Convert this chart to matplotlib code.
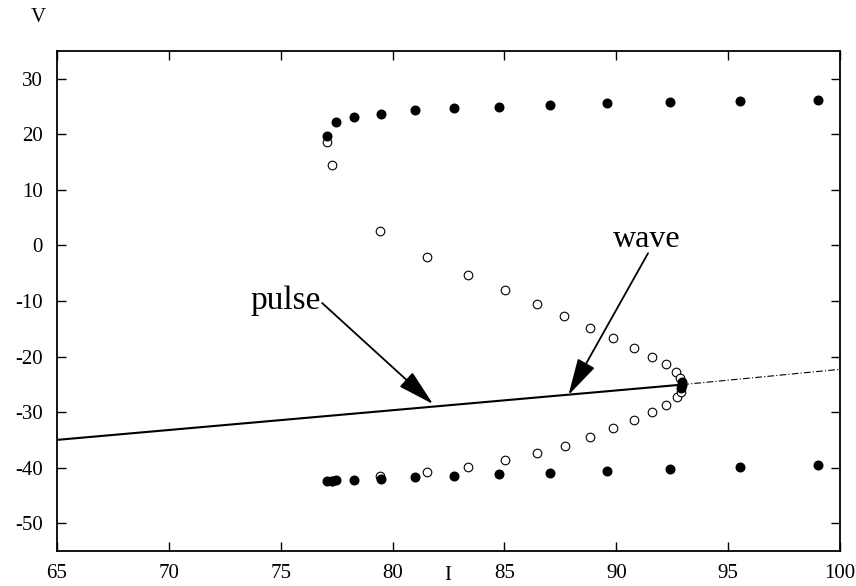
import matplotlib
matplotlib.use("Agg")
import matplotlib.pyplot as plt

# ---- data ----
upper_stable_I = [77.08, 77.46, 78.28, 79.48, 81.0, 82.76, 84.77, 87.04, 89.6, 92.4, 95.55, 99.0]
upper_stable_V = [19.78, 22.2, 23.2, 23.7, 24.3, 24.65, 25.0, 25.3, 25.55, 25.85, 26.04, 26.16]
lower_stable_I = [77.08, 77.3, 77.46, 78.28, 79.48, 81.0, 82.76, 84.77, 87.04, 89.6, 92.4, 95.55, 99.0]
lower_stable_V = [-42.35, -42.35, -42.3, -42.2, -42.0, -41.7, -41.45, -41.2, -40.95, -40.6, -40.3, -39.9, -39.55]
upper_unstable_I = [77.08, 77.3, 79.44, 81.53, 83.39, 85.03, 86.44, 87.68, 88.83, 89.87, 90.79, 91.58, 92.22, 92.67, 92.85]
upper_unstable_V = [18.65, 14.5, 2.6, -2.13, -5.3, -8.02, -10.54, -12.76, -14.86, -16.73, -18.41, -20.0, -21.4, -22.85, -23.9]
lower_unstable_I = [77.3, 79.44, 81.53, 83.39, 85.03, 86.44, 87.71, 88.83, 89.84, 90.79, 91.58, 92.22, 92.7, 92.9]
lower_unstable_V = [-42.35, -41.45, -40.75, -39.8, -38.65, -37.3, -36.07, -34.56, -32.94, -31.44, -30.06, -28.7, -27.2, -26.3]
hopf_I = [92.95, 92.95, 92.9]
hopf_V = [-24.6, -25.1, -25.6]
rest_stable_I = [65, 92.95]
rest_stable_V = [-35.0, -25.05]
rest_unstable_I = [92.95, 100]
rest_unstable_V = [-25.05, -22.3]
xticks = [65, 70, 75, 80, 85, 90, 95, 100]
yticks = [-50, -40, -30, -20, -10, 0, 10, 20, 30]

plt.rcParams['font.family'] = ['Liberation Serif', 'DejaVu Serif']

fig = plt.figure(figsize=(8.56, 5.86), dpi=100)
ax = fig.add_axes([57/856, 1-551/586, (840-57)/856, (551-51)/586])

ax.plot(rest_stable_I, rest_stable_V, color='black', lw=1.5, zorder=2)
ax.plot(rest_unstable_I, rest_unstable_V, color='black', lw=0.8, ls=(0, (6, 2, 1, 2)), zorder=2)

ax.plot(upper_unstable_I, upper_unstable_V, 'o', ms=6.2, mfc='white', mec='black', mew=0.8, ls='none', zorder=3)
ax.plot(lower_unstable_I, lower_unstable_V, 'o', ms=6.2, mfc='white', mec='black', mew=0.8, ls='none', zorder=3)
ax.plot(upper_stable_I, upper_stable_V, 'o', ms=6.2, color='black', ls='none', zorder=4)
ax.plot(lower_stable_I, lower_stable_V, 'o', ms=6.2, color='black', ls='none', zorder=4)
ax.plot(hopf_I, hopf_V, 'o', ms=6.2, color='black', ls='none', zorder=4)

arrow = dict(arrowstyle='-|>,head_length=2.3,head_width=0.6', mutation_scale=10,
             color='black', lw=1.3, shrinkA=0, shrinkB=0)
ax.annotate('', xy=(81.81, -28.56), xytext=(76.85, -10.36), arrowprops=arrow)
ax.annotate('', xy=(87.86, -26.94), xytext=(91.42, -1.4), arrowprops=arrow)
ax.text(75.2, -10.0, 'pulse', fontsize=24, ha='center', va='center')
ax.text(91.35, 1.0, 'wave', fontsize=23, ha='center', va='center')

ax.set_xlim(65, 100)
ax.set_ylim(-55, 35)
ax.set_xticks(xticks)
ax.set_yticks(yticks)
ax.set_xticklabels([str(t) for t in xticks])
ax.set_yticklabels([str(t) for t in yticks])
ax.tick_params(direction='in', length=6.5, width=1.0, labelsize=15,
               top=True, right=True, pad=10)
ax.tick_params(axis='x', pad=9)
for s in ax.spines.values():
    s.set_linewidth(1.3)

fig.text(38/856, 1-17/586, 'V', fontsize=15, ha='center', va='center')
fig.text(448/856, 1-576/586, 'I', fontsize=15, ha='center', va='center')

fig.savefig('out.png', dpi=100)
